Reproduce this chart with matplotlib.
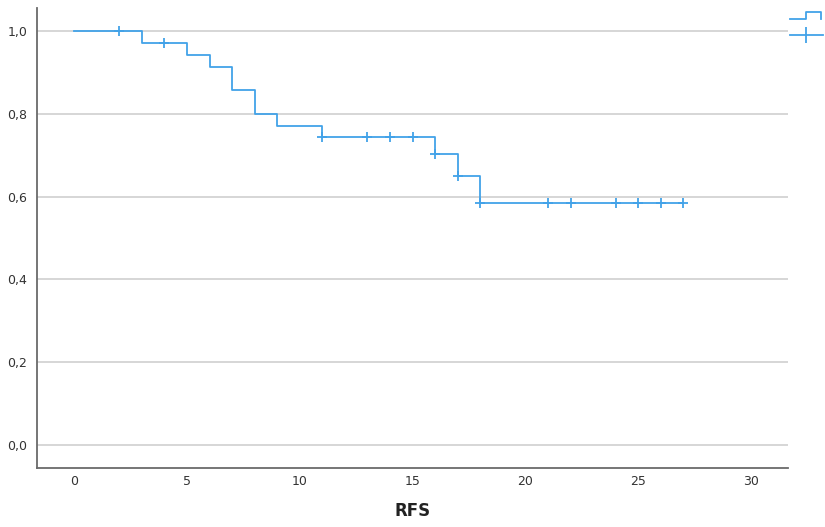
import matplotlib.pyplot as plt
from matplotlib.lines import Line2D

# Kaplan-Meier estimate for RFS
event_times = [0, 3, 5, 6, 7, 8, 9, 11, 16, 17, 18, 27]
survival = [1.0, 0.971, 0.943, 0.914, 0.857, 0.800, 0.771, 0.743, 0.704, 0.650, 0.585, 0.585]

# censored observations (time, survival at that time)
censor_times = [2, 4, 11, 13, 14, 15, 16, 17, 18, 21, 22, 24, 25, 26, 27]
censor_surv = [1.0, 0.971, 0.743, 0.743, 0.743, 0.743, 0.704, 0.650, 0.585,
               0.585, 0.585, 0.585, 0.585, 0.585, 0.585]

x_ticks = [0, 5, 10, 15, 20, 25, 30]
y_ticks = [0.0, 0.2, 0.4, 0.6, 0.8, 1.0]

blue = "#42a2e8"

fig = plt.figure(figsize=(8.25, 5.27), dpi=100)
ax = fig.add_axes([0.045, 0.112, 0.91, 0.873])

ax.step(event_times, survival, where="post", color=blue, lw=1.3, zorder=3)
ax.plot(censor_times, censor_surv, linestyle="none", marker="+", markersize=7,
        markeredgewidth=1.3, color=blue, zorder=4)

ax.set_xlim(-1.64, 31.63)
ax.set_ylim(-0.056, 1.056)
ax.set_xticks(x_ticks)
ax.set_yticks(y_ticks)
ax.set_yticklabels([f"{v:.1f}".replace(".", ",") for v in y_ticks])
ax.tick_params(axis="x", length=0, labelsize=9, colors="#333333", pad=5)
ax.tick_params(axis="y", length=0, labelsize=9, colors="#333333", pad=7)

ax.grid(axis="y", color="#cccccc", lw=1.1)
ax.set_axisbelow(True)
for side in ["top", "right"]:
    ax.spines[side].set_visible(False)
for side in ["left", "bottom"]:
    ax.spines[side].set_color("#6a6a6a")
    ax.spines[side].set_linewidth(1.3)

ax.set_xlabel("RFS", fontsize=12, fontweight="bold", color="#222222", labelpad=10)

# legend glyphs (labels fall outside the canvas)
fig.add_artist(Line2D([0.958, 0.977, 0.977, 0.995, 0.995],
                      [0.963, 0.963, 0.977, 0.977, 0.963],
                      transform=fig.transFigure, color=blue, lw=1.3))
fig.add_artist(Line2D([0.958, 0.997], [0.934, 0.934],
                      transform=fig.transFigure, color=blue, lw=1.3))
fig.add_artist(Line2D([0.977], [0.934], transform=fig.transFigure, color=blue,
                      marker="|", markersize=12, markeredgewidth=1.3))

fig.savefig("out.png", dpi=100)
